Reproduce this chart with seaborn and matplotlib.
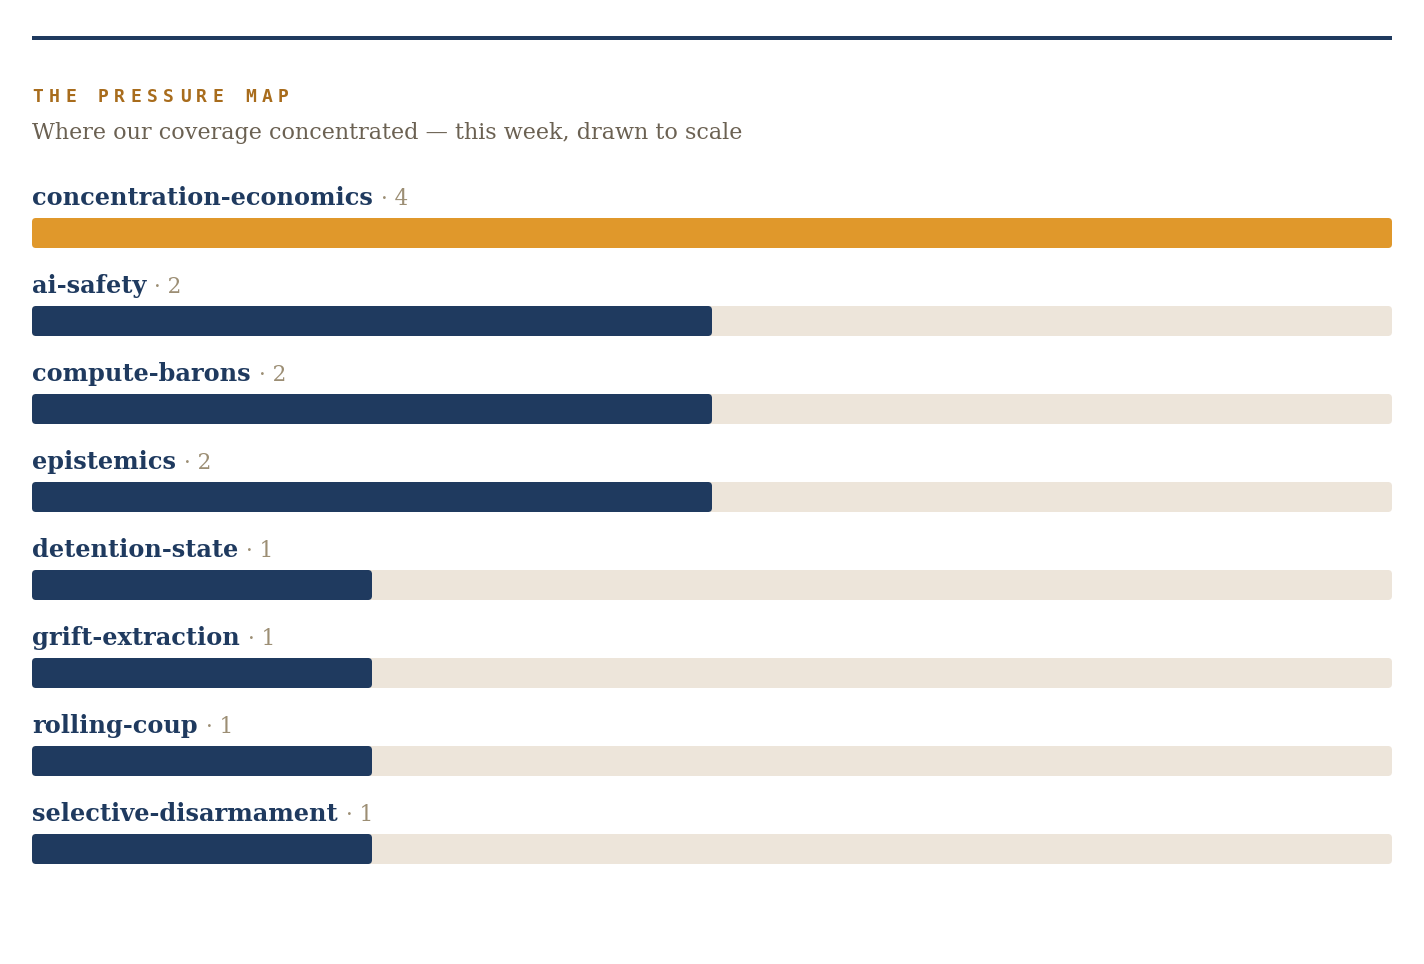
import matplotlib
matplotlib.use("Agg")
import matplotlib.pyplot as plt
from matplotlib.patches import FancyBboxPatch
from matplotlib.lines import Line2D
import seaborn as sns
import pandas as pd

categories = ["concentration-economics", "ai-safety", "compute-barons", "epistemics",
              "detention-state", "grift-extraction", "rolling-coup", "selective-disarmament"]
counts = [4, 2, 2, 2, 1, 1, 1, 1]
title = "THE PRESSURE MAP"
subtitle = "Where our coverage concentrated \u2014 this week, drawn to scale"

NAVY = "#1f3a5f"
ORANGE = "#e0982b"
TRACK = "#ede5da"
GOLD = "#a86c1c"
SUB = "#6b6152"
COUNT = "#9c8e74"

sns.set_theme(style="white")
plt.rcParams["font.family"] = ["DejaVu Serif", "DejaVu Sans"]

W, H = 1424, 964
fig = plt.figure(figsize=(W / 100, H / 100), dpi=100)
fig.patch.set_facecolor("white")

step = 88.0
center0 = 233.0
top_px = center0 - step
bot_px = center0 + step * 7.5
left_px, right_px = 32, 1392
ax = fig.add_axes([left_px / W, 1 - bot_px / H, (right_px - left_px) / W, (bot_px - top_px) / H])
ax.set_facecolor("none")

scale_max = max(counts)
df = pd.DataFrame({"category": categories, "count": counts,
                   "track": [scale_max] * len(categories)})
df["kind"] = ["top" if c == scale_max else "rest" for c in counts]

bar_h = 30 / step
sns.barplot(data=df, x="track", y="category", color=TRACK, width=bar_h, ax=ax,
            saturation=1, orient="h")
sns.barplot(data=df, x="count", y="category", hue="kind",
            palette={"top": ORANGE, "rest": NAVY}, width=bar_h, ax=ax,
            saturation=1, orient="h", legend=False, dodge=False)

ax.set_xlim(0, scale_max)
ax.set_ylim(7.5, -1)

# rounded corners
x_per_px = scale_max / (right_px - left_px)
y_per_px = 1 / step
r = 4 * x_per_px
aspect = y_per_px / x_per_px
patches = list(ax.patches)
for p in patches:
    x, y = p.get_x(), p.get_y()
    w, h = p.get_width(), p.get_height()
    if w <= 0:
        p.remove()
        continue
    fc = p.get_facecolor()
    z = p.get_zorder()
    p.remove()
    fb = FancyBboxPatch((x, y), w, h, boxstyle=f"round,pad=0,rounding_size={r}",
                        mutation_aspect=aspect, facecolor=fc, edgecolor="none",
                        linewidth=0, zorder=z)
    ax.add_patch(fb)

ax.set_xlabel("")
ax.set_ylabel("")
ax.set_xticks([])
ax.set_yticks([])
for s in ax.spines.values():
    s.set_visible(False)

labels = []
for i, cat in enumerate(categories):
    t = ax.text(0, i - bar_h / 2 - 13 / step, cat, fontsize=17.3, fontweight="bold",
                color=NAVY, va="baseline", ha="left")
    labels.append(t)

fig.canvas.draw()
renderer = fig.canvas.get_renderer()
inv = ax.transData.inverted()
for i, (t, c) in enumerate(zip(labels, counts)):
    bb = t.get_window_extent(renderer)
    xd = inv.transform((bb.x1 + 8, 0))[0]
    ax.text(xd, i - bar_h / 2 - 13 / step, f"\u00b7 {c}", fontsize=15.5, color=COUNT,
            va="baseline", ha="left")

# top rule
fig.add_artist(Line2D([left_px / W, right_px / W], [1 - 37.5 / H, 1 - 37.5 / H],
                      color=NAVY, linewidth=4 * 0.72, solid_capstyle="butt"))

# letter-spaced monospace title
adv = 16.35
for k, ch in enumerate(title):
    fig.text((left_px + 6 + k * adv) / W, 1 - 102 / H, ch, fontsize=13, fontweight="bold",
             family=["DejaVu Sans Mono"], color=GOLD, va="baseline", ha="center")

fig.text(left_px / W, 1 - 139 / H, subtitle, fontsize=16.0, color=SUB, va="baseline",
         ha="left")

fig.savefig("out.png", dpi=100, facecolor="white")
